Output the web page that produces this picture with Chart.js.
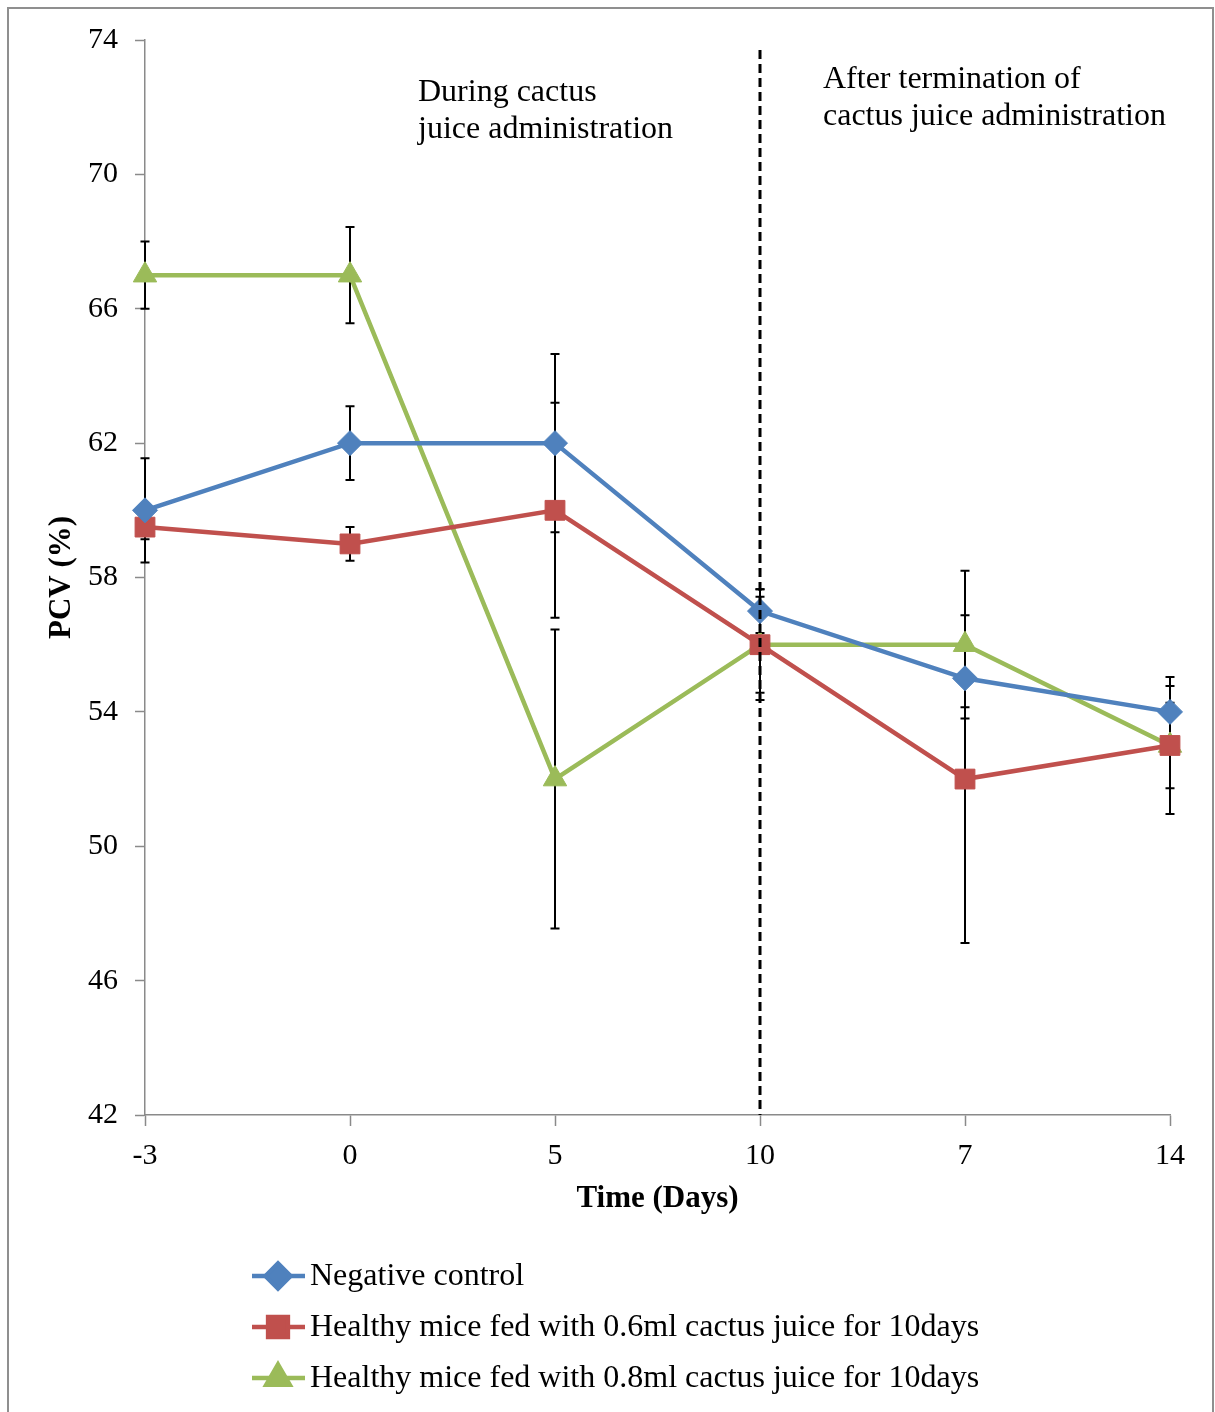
<!DOCTYPE html>
<html>
<head>
<meta charset="utf-8">
<title>PCV (%)</title>
<script src="https://cdn.jsdelivr.net/npm/chart.js"></script>
<style>
    html, body { margin: 0; padding: 0; background: #fff; }
    body { width: 1215px; height: 1412px; position: relative; overflow: hidden; }
    #frame {
        position: absolute; left: 7px; top: 7px;
        width: 1203px; height: 1420px;
        border: 2px solid #8f8f8f;
    }
    #pcvChart { position: absolute; left: 0; top: 0; }
</style>
</head>
<body>
<div id="frame"></div>
<canvas id="pcvChart" width="1215" height="1412"></canvas>
<script>
// Categories (days) and tick labels
const days = ["-3", "0", "5", "10", "7", "14"];
const yTicks = [42, 46, 50, 54, 58, 62, 66, 70, 74];

// Series values and their error bars (+/-)
const negativeControl = [60, 62, 62, 57, 55, 54];
const negativeControlErr = [1.55, 1.1, 2.65, 0.65, 0.86, 0.77];

const juice06 = [59.5, 59, 60, 56, 52, 53];
const juice06Err = [0.36, 0.5, 3.2, 1.43, 4.88, 1.27];

const juice08 = [67, 67, 52, 56, 56, 53];
const juice08Err = [1.0, 1.43, 4.45, 1.65, 2.2, 2.04];

const seriesNames = [
    "Negative control",
    "Healthy mice fed with 0.6ml cactus juice for 10days",
    "Healthy mice fed with 0.8ml cactus juice for 10days",
];

const dividerDay = "10";
const dividerTopValue = 73.7;

const SERIF = "'Liberation Serif', 'Times New Roman', serif";

function makeSeries(label, data, errors, color, pointStyle, radius) {
    return {
        label: label,
        data: data,
        errors: errors,
        borderColor: color,
        backgroundColor: color,
        borderWidth: 4.5,
        pointStyle: pointStyle,
        pointRadius: radius,
        pointBorderWidth: 1,
        pointBackgroundColor: color,
        pointBorderColor: color,
        tension: 0,
    };
}

const errorBars = {
    id: "errorBars",
    beforeDatasetsDraw(chart) {
        const { ctx, scales: { x, y } } = chart;
        ctx.save();
        ctx.strokeStyle = "#000";
        ctx.lineWidth = 2;
        chart.data.datasets.forEach((ds) => {
            ds.errors.forEach((err, i) => {
                const px = x.getPixelForValue(i);
                const top = y.getPixelForValue(ds.data[i] + err);
                const bot = y.getPixelForValue(ds.data[i] - err);
                ctx.beginPath();
                ctx.moveTo(px, top);
                ctx.lineTo(px, bot);
                ctx.moveTo(px - 4.5, top);
                ctx.lineTo(px + 4.5, top);
                ctx.moveTo(px - 4.5, bot);
                ctx.lineTo(px + 4.5, bot);
                ctx.stroke();
            });
        });
        ctx.restore();
    },
};

const divider = {
    id: "divider",
    afterDatasetsDraw(chart) {
        const { ctx, chartArea, scales: { x, y } } = chart;
        const px = x.getPixelForValue(days.indexOf(dividerDay));
        ctx.save();
        ctx.strokeStyle = "#000";
        ctx.lineWidth = 3;
        ctx.setLineDash([9, 5]);
        ctx.beginPath();
        ctx.moveTo(px, y.getPixelForValue(dividerTopValue));
        ctx.lineTo(px, chartArea.bottom);
        ctx.stroke();
        ctx.restore();
    },
};

const texts = {
    id: "texts",
    afterDraw(chart) {
        const { ctx, chartArea } = chart;
        ctx.save();
        ctx.fillStyle = "#000";

        // phase notes
        ctx.font = "32px " + SERIF;
        ctx.textAlign = "left";
        ctx.textBaseline = "alphabetic";
        ctx.fillText("During cactus", 418, 101);
        ctx.fillText("juice administration", 418, 138);
        ctx.fillText("After termination of", 823, 88);
        ctx.fillText("cactus juice administration", 823, 125);

        // axis titles
        ctx.font = "bold 31px " + SERIF;
        ctx.textAlign = "center";
        ctx.textBaseline = "middle";
        ctx.fillText("Time (Days)", (chartArea.left + chartArea.right) / 2, 1199);
        ctx.save();
        ctx.translate(62, (chartArea.top + chartArea.bottom) / 2);
        ctx.rotate(-Math.PI / 2);
        ctx.fillText("PCV (%)", 0, 0);
        ctx.restore();

        // legend
        ctx.font = "32px " + SERIF;
        ctx.textAlign = "left";
        chart.data.datasets.forEach((ds, i) => {
            const rowY = 1276 + i * 51;
            ctx.strokeStyle = ds.borderColor;
            ctx.fillStyle = ds.borderColor;
            ctx.lineWidth = 4.5;
            ctx.beginPath();
            ctx.moveTo(252, rowY);
            ctx.lineTo(305, rowY);
            ctx.stroke();
            Chart.helpers.drawPoint(ctx, {
                pointStyle: ds.pointStyle,
                radius: ds.pointRadius,
                rotation: 0,
                borderWidth: 1,
            }, 278, rowY);
            ctx.fillStyle = "#000";
            ctx.fillText(seriesNames[i], 310, rowY + 1);
        });
        ctx.restore();
    },
};

new Chart(document.getElementById("pcvChart").getContext("2d"), {
    type: "line",
    data: {
        labels: days,
        datasets: [
            makeSeries(seriesNames[0], negativeControl, negativeControlErr, "#4F81BD", "rectRot", 12.5),
            makeSeries(seriesNames[1], juice06, juice06Err, "#C0504D", "rect", 14),
            makeSeries(seriesNames[2], juice08, juice08Err, "#9BBB59", "triangle", 13.5),
        ],
    },
    options: {
        responsive: false,
        animation: false,
        devicePixelRatio: 1,
        layout: {
            padding: { top: 40, right: 45, bottom: 0, left: 0 },
        },
        scales: {
            x: {
                type: "category",
                offset: false,
                afterFit(scale) {
                    scale.height = 297;
                },
                grid: {
                    drawOnChartArea: false,
                    drawTicks: true,
                    tickLength: 11,
                    tickWidth: 1.5,
                    color: "#8a8a8a",
                    offset: false,
                },
                border: { color: "#8a8a8a", width: 1.5 },
                ticks: {
                    color: "#000",
                    font: { family: SERIF, size: 30 },
                    padding: 12,
                    maxRotation: 0,
                    autoSkip: false,
                },
            },
            y: {
                min: 42,
                max: 74,
                afterFit(scale) {
                    scale.width = 145;
                },
                afterBuildTicks(scale) {
                    scale.ticks = yTicks.map((v) => ({ value: v }));
                },
                grid: {
                    drawOnChartArea: false,
                    drawTicks: true,
                    tickLength: 10,
                    tickWidth: 1.5,
                    color: "#8a8a8a",
                },
                border: { color: "#8a8a8a", width: 1.5 },
                ticks: {
                    color: "#000",
                    font: { family: SERIF, size: 30 },
                    padding: 17,
                },
            },
        },
        plugins: {
            legend: { display: false },
            tooltip: { enabled: false },
        },
    },
    plugins: [errorBars, divider, texts],
});
</script>
</body>
</html>
